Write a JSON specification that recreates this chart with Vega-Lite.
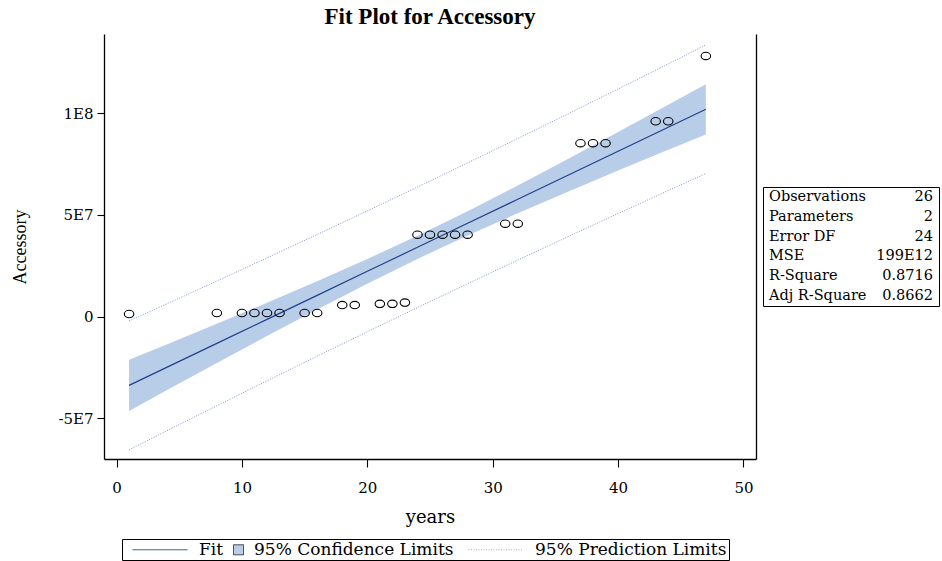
{
  "$schema": "https://vega.github.io/schema/vega-lite/v6.json",
  "padding": {"left": 11, "top": 6, "right": 1, "bottom": 1},
  "background": "white",
  "datasets": {
    "pts": [
      {"years": 1, "Accessory": 1300000},
      {"years": 8, "Accessory": 1800000},
      {"years": 10, "Accessory": 1800000},
      {"years": 11, "Accessory": 1800000},
      {"years": 12, "Accessory": 1800000},
      {"years": 13, "Accessory": 1800000},
      {"years": 15, "Accessory": 1800000},
      {"years": 16, "Accessory": 1800000},
      {"years": 18, "Accessory": 5700000},
      {"years": 19, "Accessory": 5700000},
      {"years": 21, "Accessory": 6300000},
      {"years": 22, "Accessory": 6300000},
      {"years": 23, "Accessory": 6900000},
      {"years": 24, "Accessory": 40300000},
      {"years": 25, "Accessory": 40300000},
      {"years": 26, "Accessory": 40300000},
      {"years": 27, "Accessory": 40300000},
      {"years": 28, "Accessory": 40300000},
      {"years": 31, "Accessory": 45700000},
      {"years": 32, "Accessory": 45700000},
      {"years": 37, "Accessory": 85300000},
      {"years": 38, "Accessory": 85300000},
      {"years": 39, "Accessory": 85300000},
      {"years": 43, "Accessory": 96100000},
      {"years": 44, "Accessory": 96100000},
      {"years": 47, "Accessory": 128200000}
    ],
    "fit": [
      {"years": 1, "fit": -33800000, "lcl": -46350000, "ucl": -21250000, "lpl": -65490000, "upl": -2110000},
      {"years": 4, "fit": -24940000, "lcl": -36220000, "ucl": -13660000, "lpl": -56150000, "upl": 6270000},
      {"years": 8, "fit": -13140000, "lcl": -22810000, "ucl": -3470000, "lpl": -43810000, "upl": 17530000},
      {"years": 12, "fit": -1330000, "lcl": -9530000, "ucl": 6870000, "lpl": -31560000, "upl": 28900000},
      {"years": 16, "fit": 10480000, "lcl": 3530000, "ucl": 17430000, "lpl": -19440000, "upl": 40400000},
      {"years": 20, "fit": 22290000, "lcl": 16230000, "ucl": 28350000, "lpl": -7430000, "upl": 52010000},
      {"years": 24, "fit": 34100000, "lcl": 28390000, "ucl": 39810000, "lpl": 4450000, "upl": 63750000},
      {"years": 28, "fit": 45900000, "lcl": 39910000, "ucl": 51890000, "lpl": 16190000, "upl": 75610000},
      {"years": 32, "fit": 57710000, "lcl": 50890000, "ucl": 64530000, "lpl": 27820000, "upl": 87600000},
      {"years": 36, "fit": 69520000, "lcl": 61480000, "ucl": 77560000, "lpl": 39330000, "upl": 99710000},
      {"years": 40, "fit": 81330000, "lcl": 71830000, "ucl": 90830000, "lpl": 50720000, "upl": 111940000},
      {"years": 44, "fit": 93140000, "lcl": 82050000, "ucl": 104230000, "lpl": 62000000, "upl": 124280000},
      {"years": 47, "fit": 101990000, "lcl": 89630000, "ucl": 114350000, "lpl": 70380000, "upl": 133600000}
    ],
    "stats": [
      {"stat": "Observations", "val": "26"},
      {"stat": "Parameters", "val": "2"},
      {"stat": "Error DF", "val": "24"},
      {"stat": "MSE", "val": "199E12"},
      {"stat": "R-Square", "val": "0.8716"},
      {"stat": "Adj R-Square", "val": "0.8662"}
    ]
  },
  "hconcat": [
    {
      "width": 652,
      "height": 425,
      "view": {"stroke": null},
      "title": {"text": "Fit Plot for Accessory", "font": "Liberation Serif", "fontSize": 23, "fontWeight": "bold", "anchor": "middle", "offset": 5, "color": "black"},
      "resolve": {"axis": {"y": "independent"}},
      "layer": [
        {
          "data": {"name": "fit"},
          "mark": {"type": "area", "opacity": 1},
          "encoding": {
            "x": {"field": "years", "type": "quantitative", "scale": {"domain": [-1, 51], "nice": false, "zero": false},
              "axis": {"values": [0, 10, 20, 30, 40, 50], "title": "years"}},
            "y": {"field": "lcl", "type": "quantitative", "scale": {"domain": [-70000000, 139000000], "nice": false, "zero": false},
              "axis": {"values": [-50000000, 0, 50000000, 100000000], "title": "Accessory",
                "labelExpr": "datum.value == 100000000 ? '1E8' : datum.value == 50000000 ? '5E7' : datum.value == -50000000 ? '-5E7' : '0'"}},
            "y2": {"field": "ucl"},
            "color": {"datum": "95% Confidence Limits", "type": "nominal",
              "scale": {"domain": ["Fit", "95% Confidence Limits", "95% Prediction Limits"], "range": ["#21408c", "#b8cde8", "#7f97cb"]},
              "legend": {
                "orient": "none", "legendX": 18, "legendY": 505, "direction": "horizontal", "title": null,
                "strokeColor": "black", "padding": 2, "labelFont": "DejaVu Serif", "labelFontSize": 17, "labelColor": "black",
                "labelLimit": 0, "symbolSize": 100, "columnPadding": 6,
                "labelOffset": {"expr": "datum.label === '95% Confidence Limits' ? 7 : 58"},
                "symbolType": {"expr": "datum.label === '95% Confidence Limits' ? 'square' : 'M 0 0 L 11 0'"},
                "symbolStrokeColor": {"expr": "datum.label === 'Fit' ? '#21408c' : datum.label === '95% Confidence Limits' ? '#333333' : '#9aaed6'"},
                "symbolDash": {"expr": "datum.label === '95% Prediction Limits' ? [1, 1.5] : [1, 0]"},
                "symbolStrokeWidth": 1,
                "symbolOpacity": 1
              }}
          }
        },
        {
          "data": {"name": "fit"},
          "mark": {"type": "line", "strokeWidth": 1.2, "color": "#21408c"},
          "encoding": {
            "x": {"field": "years", "type": "quantitative"},
            "y": {"field": "fit", "type": "quantitative", "axis": {"orient": "right", "labels": false, "ticks": false, "title": null}}
          }
        },
        {
          "data": {"name": "fit"},
          "mark": {"type": "line", "strokeWidth": 1, "strokeDash": [1, 1.5], "color": "#7f97cb"},
          "encoding": {
            "x": {"field": "years", "type": "quantitative"},
            "y": {"field": "lpl", "type": "quantitative", "axis": null}
          }
        },
        {
          "data": {"name": "fit"},
          "mark": {"type": "line", "strokeWidth": 1, "strokeDash": [1, 1.5], "color": "#7f97cb"},
          "encoding": {
            "x": {"field": "years", "type": "quantitative"},
            "y": {"field": "upl", "type": "quantitative", "axis": null}
          }
        },
        {
          "data": {"name": "pts"},
          "mark": {"type": "point", "shape": "M -1 0 A 1 0.78 0 1 1 1 0 A 1 0.78 0 1 1 -1 0 Z", "filled": false, "stroke": "black", "strokeWidth": 1.1, "size": 90, "opacity": 1},
          "encoding": {
            "x": {"field": "years", "type": "quantitative"},
            "y": {"field": "Accessory", "type": "quantitative", "axis": null}
          }
        }
      ]
    },
    {
      "data": {"name": "stats"},
      "width": 176,
      "height": 119,
      "view": {"stroke": "black", "strokeWidth": 1},
      "layer": [
        {
          "mark": {"type": "text", "align": "left", "baseline": "middle", "font": "DejaVu Serif", "fontSize": 14.5, "color": "black"},
          "encoding": {
            "y": {"field": "stat", "type": "nominal", "sort": null, "axis": null, "scale": {"type": "band", "paddingInner": 0, "paddingOuter": 0}},
            "x": {"datum": "label", "type": "nominal", "axis": null, "scale": {"type": "point", "domain": ["label", "value"], "padding": 0.0366}},
            "text": {"field": "stat"}
          }
        },
        {
          "mark": {"type": "text", "align": "right", "baseline": "middle", "font": "DejaVu Serif", "fontSize": 14.5, "color": "black"},
          "encoding": {
            "y": {"field": "stat", "type": "nominal", "sort": null, "axis": null},
            "x": {"datum": "value", "type": "nominal", "axis": null},
            "text": {"field": "val"}
          }
        }
      ]
    }
  ],
  "spacing": 7,
  "center": true,
  "bounds": "flush",
  "config": {
    "font": "DejaVu Serif",
    "axis": {
      "grid": false, "domainColor": "black", "domainWidth": 1.3, "tickColor": "black", "tickWidth": 1.1,
      "labelFont": "DejaVu Serif", "labelFontSize": 15, "labelColor": "black",
      "titleFont": "DejaVu Serif", "titleFontSize": 18, "titleFontWeight": "normal", "titleColor": "black"
    },
    "axisX": {"tickSize": 8, "labelPadding": 13, "titlePadding": 13},
    "axisY": {"tickSize": 7, "labelPadding": 4, "titlePadding": 28, "titleFont": "Liberation Serif"}
  }
}
